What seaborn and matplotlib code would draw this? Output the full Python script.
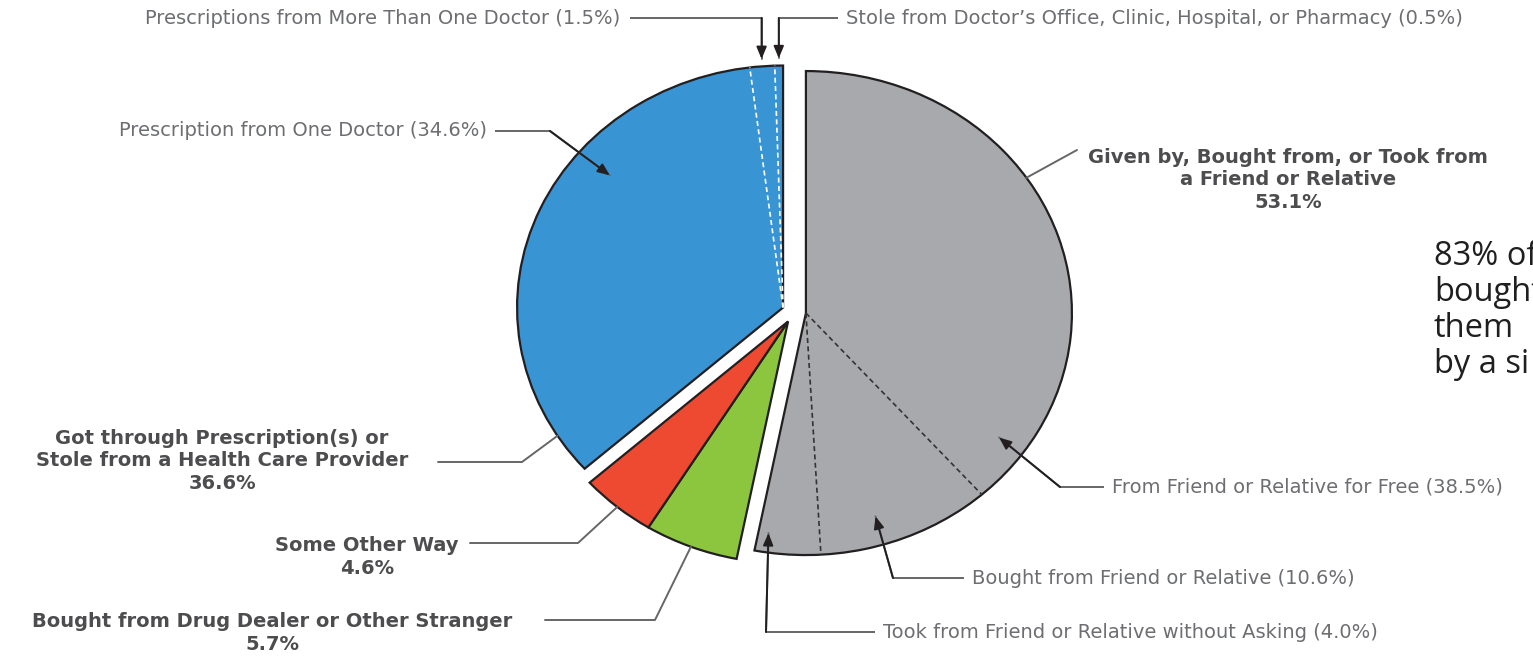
import numpy as np
import matplotlib
matplotlib.use("Agg")
import matplotlib.pyplot as plt
import seaborn as sns

# Main categories (clockwise from 12 o'clock)
main_labels = ["Given by, Bought from, or Took from\na Friend or Relative",
               "Bought from Drug Dealer or Other Stranger",
               "Some Other Way",
               "Got through Prescription(s) or\nStole from a Health Care Provider"]
main_pct = [53.1, 5.7, 4.6, 36.6]
main_colors = ["#a7a9ac", "#8cc63f", "#ee4931", "#3894d2"]

# Sub categories of the friend/relative slice (clockwise)
friend_labels = ["From Friend or Relative for Free",
                 "Bought from Friend or Relative",
                 "Took from Friend or Relative without Asking"]
friend_pct = [38.5, 10.6, 4.0]

# Sub categories of the health care slice (counter-clockwise from the top)
health_labels = ["Stole from Doctor\u2019s Office, Clinic, Hospital, or Pharmacy",
                 "Prescriptions from More Than One Doctor",
                 "Prescription from One Doctor"]
health_pct = [0.5, 1.5, 34.6]

side_note = "83% of\nbought\nthem\nby a si"

sns.set_theme(style="white")
plt.rcParams["font.family"] = ["DejaVu Sans"]

W, H = 1533, 659
CX, CY, RX, RY = 794, 312, 266, 242
EXPLODE = 0.045


def P(x, y):
    # pixel position (from top-left) -> data coords
    return ((x - CX) / RX, (CY - y) / RY)


fig = plt.figure(figsize=(W / 100, H / 100), dpi=100)
ax = fig.add_axes([0, 0, 1, 1])

wedges, _ = ax.pie(main_pct, colors=main_colors, startangle=90, counterclock=False,
                   explode=[EXPLODE] * 4,
                   wedgeprops=dict(edgecolor="#231f20", linewidth=1.6))
gray, green, red, blue = wedges

# red + green are pulled out together as one group
mid = np.deg2rad((red.theta1 + green.theta2) / 2)
for w in (green, red):
    w.set_center((EXPLODE * np.cos(mid), EXPLODE * np.sin(mid)))

ax.set_aspect("auto")
ax.set_xlim(-CX / RX, (W - CX) / RX)
ax.set_ylim((CY - H) / RY, CY / RY)
ax.axis("off")


def on_wedge(w, ang, r=1.0):
    a = np.deg2rad(ang)
    return (w.center[0] + r * np.cos(a), w.center[1] + r * np.sin(a))


# dashed dividers inside gray slice
cum = 0
for p in friend_pct[:-1]:
    cum += p
    a = gray.theta2 - cum * 3.6
    x1, y1 = on_wedge(gray, a)
    ax.plot([gray.center[0], x1], [gray.center[1], y1], ls=(0, (3, 2)),
            color="#333333", lw=1.2)

# white dashed dividers inside blue slice
cum = 0
for p in health_pct[:-1]:
    cum += p
    a = blue.theta1 + cum * 3.6
    x1, y1 = on_wedge(blue, a)
    ax.plot([blue.center[0], x1], [blue.center[1], y1], ls=(0, (3, 2)),
            color="white", lw=1.2)

LC = "#666666"
reg = dict(fontsize=14, color="#6d6e71", va="center")
bold = dict(fontsize=14, color="#4d4d4f", fontweight="bold", ha="center",
            va="center", linespacing=1.25)


def leader(pts, tip, arrow=True):
    pts = [P(*p) for p in pts] + [tip]
    xs, ys = zip(*pts)
    if arrow:
        ax.plot(xs[:-1], ys[:-1], color=LC, lw=1.4, solid_capstyle="butt")
        ax.plot([pts[-2][0], pts[-1][0]], [pts[-2][1], pts[-1][1]], color=LC, lw=1.4)
        ax.annotate("", xy=pts[-1], xytext=pts[-2],
                    arrowprops=dict(arrowstyle="-|>,head_length=0.6,head_width=0.25",
                                    color="#231f20", lw=1.4, shrinkA=0, shrinkB=0))
    else:
        ax.plot(xs, ys, color=LC, lw=1.4)


def px_x(pt):
    return pt[0] * RX + CX


# health sub labels
ang_stole = blue.theta1 + health_pct[0] / 2 * 3.6
tip = on_wedge(blue, ang_stole, 1.03)
ax.text(*P(846, 18), f"{health_labels[0]} ({health_pct[0]}%)", ha="left", **reg)
leader([(838, 18), (px_x(tip), 18)], tip)

ang_more = blue.theta1 + (health_pct[0] + health_pct[1] / 2) * 3.6
tip = on_wedge(blue, ang_more, 1.03)
ax.text(*P(620, 18), f"{health_labels[1]} ({health_pct[1]}%)", ha="right", **reg)
leader([(630, 18), (px_x(tip), 18)], tip)

tip = on_wedge(blue, 140, 0.85)
ax.text(*P(487, 131), f"{health_labels[2]} ({health_pct[2]}%)", ha="right", **reg)
leader([(495, 131), (550, 131)], tip)

# friend sub labels
tip = on_wedge(gray, -35.3, 0.89)
ax.text(*P(1112, 487), f"{friend_labels[0]} ({friend_pct[0]}%)", ha="left", **reg)
leader([(1104, 487), (1060, 487)], tip)

tip = on_wedge(gray, -72.7, 0.88)
ax.text(*P(972, 578), f"{friend_labels[1]} ({friend_pct[1]}%)", ha="left", **reg)
leader([(964, 578), (893, 578)], tip)

tip = on_wedge(gray, -98.8, 0.92)
ax.text(*P(883, 632), f"{friend_labels[2]} ({friend_pct[2]}%)", ha="left", **reg)
leader([(875, 632), (766, 632)], tip)

# main labels
ax.text(*P(1288, 180), f"{main_labels[0]}\n{main_pct[0]}%", **bold)
leader([(1077, 150)], on_wedge(gray, 34), arrow=False)

ax.text(*P(222, 461), f"{main_labels[3]}\n{main_pct[3]}%", **bold)
leader([(438, 462), (522, 462)], on_wedge(blue, 212), arrow=False)

ax.text(*P(367, 557), f"{main_labels[2]}\n{main_pct[2]}%", **bold)
leader([(470, 543), (578, 543)], on_wedge(red, (red.theta1 + red.theta2) / 2), arrow=False)

ax.text(*P(272, 633), f"{main_labels[1]}\n{main_pct[1]}%", **bold)
leader([(545, 620), (655, 620)], on_wedge(green, (green.theta1 + green.theta2) / 2), arrow=False)

ax.text(*P(1434, 240), side_note, ha="left", va="top", fontsize=23.5,
        color="#1f1f1f", family=["Open Sans", "DejaVu Sans"], linespacing=1.12)

fig.savefig("out.png", dpi=100)
